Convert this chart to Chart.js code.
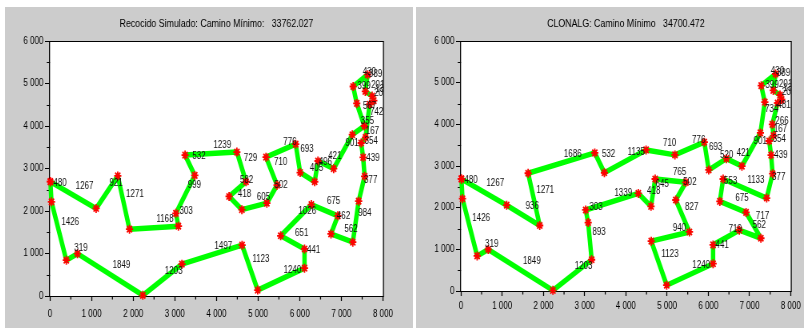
<!DOCTYPE html>
<html>
<head>
<meta charset="utf-8">
<script src="https://cdn.jsdelivr.net/npm/chart.js@4"></script>
<style>
  html, body { margin: 0; padding: 0; background: #ffffff; width: 804px; height: 328px; overflow: hidden; }
  .panel { position: absolute; top: 7px; transform: scaleX(0.8); transform-origin: 0 0; }
  canvas { display: block; }
</style>
</head>
<body>
<div class="panel" style="left:5px"><canvas id="saChart" width="510" height="321"></canvas></div>
<div class="panel" style="left:416px"><canvas id="clonalgChart" width="485" height="321"></canvas></div>
<script>
// City coordinates (index = city number)
const cityX = [10, 36, 392, 660, 2230, 3170, 1108, 1628, 1910, 3085, 3025, 3478, 3245, 4490, 4710, 4302,
               4610, 5210, 5455, 5190, 5903, 6010, 6359, 6438, 6815, 7263, 7552, 7370, 7283, 7631, 7575, 7739,
               7779, 7680, 7580, 7476, 7523, 7559, 7415, 7275, 6751, 6915, 6279, 5542, 6115, 6115, 4990, 4615];
const cityY = [2690, 2215, 842, 996, 16, 750, 2060, 2826, 1572, 1643, 1945, 2838, 3315, 3386, 2688, 2342,
               2032, 2184, 2608, 3267, 3572, 2905, 2688, 3176, 2996, 3795, 4000, 4532, 4929, 5208, 4814, 4704,
               4596, 4512, 3731, 3600, 3262, 2815, 2231, 1266, 1460, 1886, 2151, 1417, 1107, 655, 139, 1196];

// Simulated annealing tour and the length written on each edge
const saTour = [0, 6, 7, 8, 9, 10, 11, 12, 13, 14, 15, 16, 17, 18, 19, 20, 21, 22, 23, 24, 25, 26, 27, 28,
                29, 30, 31, 32, 33, 34, 35, 36, 37, 38, 39, 40, 41, 42, 43, 44, 45, 46, 47, 5, 4, 3, 2, 1];
const saEdgeLengths = [1267, 921, 1271, 1168, 303, 999, 532, 1239, 729, 582, 418, 605, 502, 710, 776, 693,
                       405, 496, 421, 901, 355, 567, 399, 430, 389, 201, 137, 208, 742, 167, 354, 439,
                       377, 984, 562, 462, 675, 1026, 651, 441, 1240, 1123, 1497, 1203, 1849, 319, 1426, 480];

// CLONALG tour and its edge lengths
const clonalgTour = [0, 6, 8, 7, 12, 11, 13, 19, 20, 21, 23, 24, 25, 27, 28, 29, 30, 31, 32, 33, 26, 34, 35, 36,
                     37, 38, 22, 42, 41, 39, 40, 44, 45, 46, 47, 43, 17, 18, 14, 16, 15, 10, 9, 5, 4, 3, 2, 1];
const clonalgEdgeLengths = [1267, 936, 1271, 1686, 532, 1135, 710, 776, 693, 520, 421, 901, 734, 399, 430, 389,
                            201, 137, 208, 481, 266, 167, 354, 439, 377, 1133, 553, 675, 717, 562, 719, 441,
                            1240, 1123, 940, 827, 502, 765, 645, 418, 1339, 303, 893, 1203, 1849, 319, 1426, 480];

const saTitle = 'Recocido Simulado: Camino Mínimo:   33762.027';
const clonalgTitle = 'CLONALG: Camino Mínimo   34700.472';

const xMax = 8000, yMax = 6000;
const FONT = '"Liberation Sans", Arial, Helvetica, sans-serif';

function fmtTick(v) {
  return v >= 1000 ? Math.floor(v / 1000) + ' ' + String(v % 1000).padStart(3, '0') : String(v);
}

function makeChart(canvasId, cfg) {
  const points = cfg.tour.concat(cfg.tour[0]).map(i => ({ x: cityX[i], y: cityY[i] }));

  const framePlugin = {
    id: 'frame',
    beforeDraw(chart) {
      const { ctx, chartArea: a } = chart;
      ctx.save();
      ctx.fillStyle = '#cccccc';
      ctx.fillRect(0, 0, chart.width, chart.height);
      ctx.fillStyle = '#ffffff';
      ctx.fillRect(a.left, a.top, a.right - a.left, a.bottom - a.top);
      ctx.restore();
    },
    beforeDatasetsDraw(chart) {
      const { ctx, chartArea: a, scales } = chart;
      ctx.save();
      ctx.strokeStyle = '#000000';
      // horizontal edges
      ctx.lineWidth = 1;
      ctx.beginPath();
      ctx.moveTo(a.left - 0.6, a.top + 0.5); ctx.lineTo(a.right + 0.6, a.top + 0.5);
      ctx.moveTo(a.left - 0.6, a.bottom + 0.5); ctx.lineTo(a.right + 0.6, a.bottom + 0.5);
      ctx.stroke();
      // vertical edges
      ctx.lineWidth = 1.25;
      ctx.beginPath();
      ctx.moveTo(a.left - 0.6, a.top); ctx.lineTo(a.left - 0.6, a.bottom + 1);
      ctx.moveTo(a.right + 0.6, a.top); ctx.lineTo(a.right + 0.6, a.bottom + 1);
      ctx.stroke();
      // minor ticks halfway between labelled ticks
      ctx.beginPath();
      for (let v = 500; v < xMax; v += 1000) {
        const px = scales.x.getPixelForValue(v);
        ctx.moveTo(px, a.bottom + 1); ctx.lineTo(px, a.bottom + 3.5);
      }
      ctx.stroke();
      ctx.lineWidth = 1;
      ctx.beginPath();
      for (let v = 500; v < yMax; v += 1000) {
        const py = Math.round(scales.y.getPixelForValue(v)) + 0.5;
        ctx.moveTo(a.left - 4, py); ctx.lineTo(a.left, py);
      }
      ctx.stroke();
      ctx.restore();
    },
    afterDatasetsDraw(chart) {
      // edge length written next to the middle of every edge
      const { ctx, chartArea: a, scales } = chart;
      const tour = cfg.tour, lengths = cfg.lengths;
      ctx.save();
      ctx.beginPath();
      ctx.rect(a.left, a.top, a.right - a.left, a.bottom - a.top);
      ctx.clip();
      ctx.font = '10px ' + FONT;
      ctx.fillStyle = '#111111';
      ctx.textAlign = 'left';
      ctx.textBaseline = 'alphabetic';
      for (let k = 0; k < tour.length; k++) {
        const i = tour[k], j = tour[(k + 1) % tour.length];
        const mx = (scales.x.getPixelForValue(cityX[i]) + scales.x.getPixelForValue(cityX[j])) / 2;
        const my = (scales.y.getPixelForValue(cityY[i]) + scales.y.getPixelForValue(cityY[j])) / 2;
        ctx.fillText(String(lengths[k]), mx + 3, my - 6);
      }
      ctx.restore();
    }
  };

  return new Chart(document.getElementById(canvasId), {
    type: 'scatter',
    data: {
      datasets: [{
        data: points,
        showLine: true,
        borderColor: '#00ff00',
        borderWidth: 5.5,
        borderJoinStyle: 'round',
        tension: 0,
        pointStyle: 'star',
        pointRadius: 4.5,
        pointBorderColor: '#ff0000',
        pointBackgroundColor: '#ff0000',
        pointBorderWidth: 1.8,
        clip: false
      }]
    },
    options: {
      responsive: false,
      devicePixelRatio: 1,
      animation: false,
      events: [],
      layout: { padding: { left: 0, right: cfg.padRight, top: 0, bottom: 0 } },
      plugins: {
        legend: { display: false },
        tooltip: { enabled: false },
        title: {
          display: true,
          text: cfg.title,
          fullSize: false,
          color: '#000000',
          font: { family: FONT, size: 11, weight: 'normal' },
          padding: { top: 10.4, bottom: 10.4 }
        }
      },
      scales: {
        x: {
          type: 'linear', min: 0, max: xMax,
          afterFit(s) { s.height = cfg.xAxisHeight; },
          ticks: {
            stepSize: 1000, autoSkip: false, maxRotation: 0, minRotation: 0,
            padding: cfg.xTickPad, color: '#000000',
            font: { family: FONT, size: 10 },
            callback: v => fmtTick(v)
          },
          grid: { drawOnChartArea: false, drawTicks: true, tickLength: 5, tickColor: '#000000', tickWidth: 1.25 },
          border: { display: false }
        },
        y: {
          type: 'linear', min: 0, max: yMax,
          afterFit(s) { s.width = 56.25; },
          ticks: {
            stepSize: 1000, autoSkip: false, padding: 2, color: '#000000',
            font: { family: FONT, size: 10 },
            callback: v => fmtTick(v)
          },
          grid: { drawOnChartArea: false, drawTicks: true, tickLength: 6.25, tickColor: '#000000', tickWidth: 1 },
          border: { display: false }
        }
      }
    },
    plugins: [framePlugin]
  });
}

makeChart('saChart', {
  tour: saTour, lengths: saEdgeLengths, title: saTitle,
  padRight: 37.5, xAxisHeight: 32, xTickPad: 7
});
makeChart('clonalgChart', {
  tour: clonalgTour, lengths: clonalgEdgeLengths, title: clonalgTitle,
  padRight: 13, xAxisHeight: 37, xTickPad: 4
});
</script>
</body>
</html>
